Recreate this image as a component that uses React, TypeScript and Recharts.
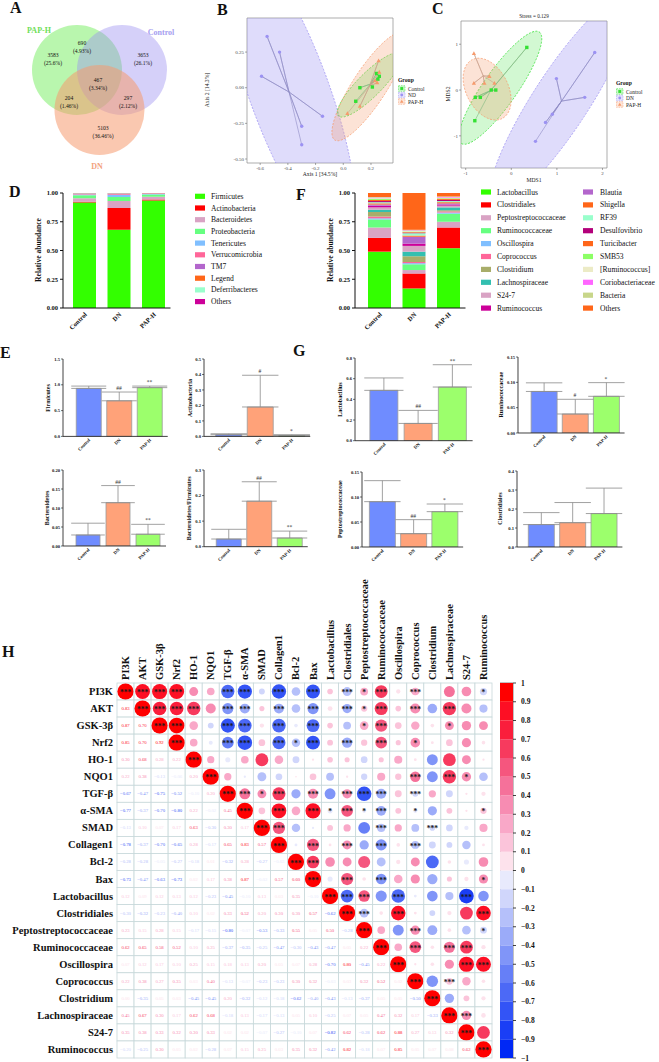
import React from "react";
import {
  BarChart,
  Bar,
  XAxis,
  YAxis,
  ScatterChart,
  Scatter,
  ComposedChart,
  ErrorBar,
  ReferenceArea,
  Cell,
} from "recharts";

const SERIF = "'Liberation Serif', 'Times New Roman', serif";
const INK = "#111";

// ---------- A: shared OTUs ----------
const VENN_SETS = ["PAP-H", "Control", "DN"];
const VENN_COUNTS = [3583, 690, 3653, 467, 204, 297, 5103];
const VENN_SHARES = ["25.6%", "4.93%", "26.1%", "3.34%", "1.46%", "2.12%", "36.46%"];

// ---------- B: PCoA ----------
const PCOA_GROUPS = ["Control", "ND", "PAP-H"];
const PCOA_CONTROL = [[0.24, 0.1], [0.26, 0.08], [0.25, 0.06], [0.21, 0.005], [0.12, 0.0], [0.09, -0.095]];
const PCOA_ND = [[-0.55, 0.36], [-0.46, 0.25], [-0.59, 0.08], [-0.15, -0.2], [-0.3, -0.27], [-0.3, -0.4]];
const PCOA_PAPH = [[0.255, 0.19], [0.26, 0.11], [0.23, 0.05], [0.245, 0.035], [0.12, -0.13], [0.03, -0.18]];
const PCOA_ELLIPSE_CENTERS = [[0.19, 0.02], [-0.39, -0.03], [0.19, 0.01]];
const PCOA_X_TICKS = [-0.6, -0.4, -0.2, 0, 0.2];
const PCOA_Y_TICKS = [-0.5, -0.25, 0, 0.25];

// ---------- C: NMDS ----------
const NMDS_GROUPS = ["Control", "DN", "PAP-H"];
const NMDS_CONTROL = [[0.34, 0.93], [-0.44, 0], [-0.34, 0], [-0.79, -0.16], [-0.68, -0.16], [-0.8, -0.67]];
const NMDS_DN = [[1.83, 0.82], [0.99, 0.25], [1.61, -0.16], [0.9, -0.53], [0.75, -0.71], [0.53, -1.12]];
const NMDS_PAPH = [[-0.82, 0.8], [-0.82, 0.15], [-0.59, 0.15], [-0.48, 0.3], [-0.37, 0.15]];
const NMDS_ELLIPSE_CENTERS = [[-0.24, 0.05], [1.1, -0.22], [-0.53, 0.02]];
const NMDS_X_TICKS = [-1, 0, 1, 2];
const NMDS_Y_TICKS = [-1, 0, 1];
const NMDS_STRESS = "0.129";

// ---------- D / F: relative abundance ----------
const GROUPS = ["Control", "DN", "PAP-H"];
const PHYLA = ["Firmicutes", "Actinobacteria", "Bacteroidetes", "Proteobacteria", "Tenericutes", "Verrucomicrobia", "TM7", "Legend", "Deferribacteres", "Others"];
const PHYLA_CONTROL = [0.917, 0.008, 0.03, 0.025, 0.008, 0.004, 0.003, 0.002, 0.002, 0.001];
const PHYLA_DN = [0.68, 0.19, 0.06, 0.035, 0.02, 0.006, 0.004, 0.002, 0.002, 0.001];
const PHYLA_PAPH = [0.935, 0.008, 0.025, 0.018, 0.007, 0.003, 0.002, 0.001, 0.001, 0.001];
const PHYLA_COLORS = ["#33ff00", "#ff0000", "#d9a3c4", "#66ff80", "#80bfff", "#ff6699", "#b366cc", "#ff6619", "#99ffcc", "#cc0099"];

const GENERA = ["Lactobacillus", "Clostridiales", "Peptostreptococcaceae", "Ruminococcaceae", "Oscillospira", "Coprococcus", "Clostridium", "Lachnospiraceae", "S24-7", "Ruminococcus", "Blautia", "Shigella", "RF39", "Desulfovibrio", "Turicibacter", "SMB53", "[Ruminococcus]", "Coriobacteriaceae", "Bacteria", "Others"];
const GENERA_CONTROL = [0.49, 0.12, 0.09, 0.07, 0.01, 0.015, 0.04, 0.02, 0.02, 0.015, 0.01, 0.01, 0.01, 0.01, 0.01, 0.01, 0.005, 0.005, 0.005, 0.035];
const GENERA_DN = [0.17, 0.13, 0.03, 0.05, 0.01, 0.01, 0.05, 0.04, 0.05, 0.02, 0.06, 0.01, 0.02, 0.005, 0.005, 0.005, 0.005, 0.005, 0.005, 0.32];
const GENERA_PAPH = [0.52, 0.18, 0.05, 0.07, 0.01, 0.01, 0.01, 0.025, 0.015, 0.01, 0.01, 0.01, 0.01, 0.01, 0.01, 0.005, 0.005, 0.005, 0.005, 0.03];
const GENERA_COLORS = ["#33ff00", "#ff0000", "#d9a3c4", "#66ff80", "#80bfff", "#ff6699", "#a8ad6a", "#33bfb0", "#d9a3c4", "#cc0099", "#b366cc", "#ff6619", "#99ffcc", "#b3007a", "#ff661a", "#8cff66", "#ecebc6", "#ff66ff", "#c8d68a", "#ff6619"];
const ABUND_TICKS = [0, 0.25, 0.5, 0.75, 1];

// ---------- E / G: group comparisons ----------
const BAR_COLORS = ["#6f8cff", "#ffa279", "#9cff6c"];
const FIRMICUTES_MEAN = [0.93, 0.69, 0.945];
const FIRMICUTES_SD = [0.045, 0.17, 0.03];
const FIRMICUTES_MARK = ["", "##", "**"];
const FIRMICUTES_TICKS = [0, 0.5, 1, 1.5];
const ACTINO_MEAN = [0.011, 0.19, 0.006];
const ACTINO_SD = [0.006, 0.205, 0.005];
const ACTINO_MARK = ["", "#", "*"];
const ACTINO_TICKS = [0, 0.1, 0.2, 0.3, 0.4, 0.5];
const BACTERO_MEAN = [0.029, 0.114, 0.031];
const BACTERO_SD = [0.031, 0.045, 0.026];
const BACTERO_MARK = ["", "##", "**"];
const BACTERO_TICKS = [0, 0.05, 0.1, 0.15, 0.2];
const BF_MEAN = [0.03, 0.178, 0.034];
const BF_SD = [0.038, 0.076, 0.027];
const BF_MARK = ["", "##", "**"];
const BF_TICKS = [0, 0.1, 0.2, 0.3];
const LACTO_MEAN = [0.487, 0.167, 0.519];
const LACTO_SD = [0.12, 0.126, 0.216];
const LACTO_MARK = ["", "##", "**"];
const LACTO_TICKS = [0, 0.2, 0.4, 0.6, 0.8];
const RUMINO_MEAN = [0.082, 0.0375, 0.0724];
const RUMINO_SD = [0.017, 0.029, 0.027];
const RUMINO_MARK = ["", "#", "*"];
const RUMINO_TICKS = [0, 0.05, 0.1, 0.15];
const PEPTO_MEAN = [0.0907, 0.0267, 0.0707];
const PEPTO_SD = [0.042, 0.028, 0.0153];
const PEPTO_MARK = ["", "##", "*"];
const PEPTO_TICKS = [0, 0.05, 0.1, 0.15];
const CLOSTRI_MEAN = [0.118, 0.128, 0.176];
const CLOSTRI_SD = [0.063, 0.106, 0.134];
const CLOSTRI_MARK = ["", "", ""];
const CLOSTRI_TICKS = [0, 0.1, 0.2, 0.3, 0.4];

// ---------- H: correlation matrix ----------
const HEAT_LABELS = ["PI3K", "AKT", "GSK-3β", "Nrf2", "HO-1", "NQO1", "TGF-β", "α-SMA", "SMAD", "Collagen1", "Bcl-2", "Bax", "Lactobacillus", "Clostridiales", "Peptostreptococcaceae", "Ruminococcaceae", "Oscillospira", "Coprococcus", "Clostridium", "Lachnospiraceae", "S24-7", "Ruminococcus"];
// lower triangle, row i holds r with columns 0..i-1
const HEAT_LOWER = [
  [],
  [0.83],
  [0.87, 0.7],
  [0.85, 0.7, 0.92],
  [0.3, 0.68, 0.28, 0.22],
  [0.22, 0.38, -0.13, -0.06, 0.2],
  [-0.67, -0.47, -0.75, -0.52, -0.1, 0.2],
  [-0.77, -0.37, -0.7, -0.8, 0.22, -0.02, 0.45],
  [-0.13, 0.1, 0.07, 0.17, 0.63, -0.3, 0.3, 0.17],
  [-0.78, -0.37, -0.7, -0.65, 0.28, -0.17, 0.65, 0.83, 0.57],
  [-0.28, -0.28, -0.05, -0.27, -0.18, 0.01, -0.32, 0.28, -0.27, -0.03],
  [-0.73, -0.47, -0.63, -0.73, 0.02, 0.17, 0.38, 0.87, -0.02, 0.57, 0.6],
  [0.12, 0.09, 0.12, 0.13, 0.12, -0.23, -0.45, -0.1, 0.13, 0.03, 0.35, -0.1],
  [-0.3, -0.32, -0.23, -0.4, 0.1, 0.02, 0.33, 0.52, 0.2, 0.3, 0.3, 0.57, -0.62],
  [0.23, 0.15, 0.28, 0.15, -0.17, -0.15, -0.8, -0.07, -0.53, -0.33, 0.55, 0.05, 0.5, -0.28],
  [0.62, 0.65, 0.58, 0.52, 0.1, 0.25, -0.37, -0.35, -0.25, -0.47, -0.3, -0.43, -0.47, 0.05, 0.22],
  [0.07, 0.12, 0.17, 0.1, 0.25, 0.15, 0.18, 0.13, 0.2, 0.05, 0.07, 0.28, -0.7, 0.8, -0.45, 0.22],
  [0.22, 0.38, 0.27, 0.35, 0.03, 0.4, -0.13, -0.07, -0.23, -0.23, 0.3, 0.32, -0.03, 0.03, 0.32, 0.52, 0.02],
  [0.0, -0.35, 0.05, 0.03, -0.45, -0.45, 0.2, -0.32, -0.12, -0.18, -0.62, -0.4, -0.43, -0.13, -0.37, 0.05, 0.05, -0.5],
  [0.45, 0.67, 0.3, 0.17, 0.62, 0.68, -0.18, 0.13, -0.17, -0.13, 0.05, 0.1, -0.25, 0.07, 0.05, 0.47, 0.32, 0.17, -0.33],
  [0.35, 0.38, 0.33, 0.32, 0.3, 0.33, 0.02, 0.02, -0.07, -0.27, -0.1, 0.07, -0.82, 0.62, -0.28, 0.62, 0.88, 0.27, 0.13, 0.32],
  [-0.2, -0.25, 0.3, 0.05, 0.02, -0.28, 0.07, 0.15, 0.25, 0.03, 0.35, 0.32, -0.42, 0.82, -0.18, 0.07, 0.85, 0.05, 0.07, 0.08, 0.62],
];
// upper triangle significance, row i covers columns i+1..21 (digit = number of stars)
const HEAT_STARS = [
  "333003303030313030001",
  "33303303030313030300",
  "3003303030013000100",
  "003303130303010000",
  "00000000000000000",
  "0000000000030310",
  "313030333030000",
  "03031313010001",
  "3000003003000",
  "030303030000",
  "30000000000",
  "0303000001",
  "330300030",
  "30300003",
  "0030001",
  "030330",
  "00033",
  "0300",
  "000",
  "30",
  "0",
  "",
];
const COLORBAR_TICKS = [-1, -0.9, -0.8, -0.7, -0.6, -0.5, -0.4, -0.3, -0.2, -0.1, 0, 0.1, 0.2, 0.3, 0.4, 0.5, 0.6, 0.7, 0.8, 0.9, 1];
const HEAT_PALETTE = [
  "#0028f5", "#1a3ef5", "#3354f6", "#4c69f6", "#667ff7", "#8095f8", "#9babf9", "#b5c0fa", "#d0d6fb", "#e8eafc",
  "#fde2ec", "#fbc4da", "#f9a8c8", "#f78cb2", "#f5719a", "#f5567e", "#f73a5e", "#fa1e3c", "#fd0f24", "#ff0000",
];

const colorOf = (r: number) => HEAT_PALETTE[Math.min(19, Math.max(0, Math.floor((r + 1) * 10 + 1e-9)))];
const fmtR = (r: number) => (r < 0 ? "\u2212" : "") + Math.abs(r).toFixed(2);

const HEAT_CELLS: any[] = [];
HEAT_LABELS.forEach((_, i) => {
  HEAT_LABELS.forEach((__, j) => {
    const r = i === j ? 1 : j < i ? HEAT_LOWER[i][j] : HEAT_LOWER[j][i];
    const n = i === j ? 3 : j > i ? Number(HEAT_STARS[i][j - i - 1]) : 0;
    HEAT_CELLS.push({ x: j, y: i, r, lower: j < i, stars: "*".repeat(n) });
  });
});
const HEAT_INDEX = HEAT_LABELS.map((_, i) => i);

// ---------- layout ----------
const VENN_SET_LAYOUT = [
  { x: 77, y: 70, fill: "#74ee5e", opacity: 0.5, lx: 39, ly: 30, color: "#6ede58" },
  { x: 122, y: 70, fill: "#9a90f0", opacity: 0.42, lx: 161, ly: 32, color: "#a59ef0" },
  { x: 99.5, y: 110, fill: "#f59a70", opacity: 0.55, lx: 97, ly: 166, color: "#f3a27e" },
];
const VENN_REGION_LAYOUT = [[53, 59], [82, 47], [143, 59], [98, 84], [69, 102], [128, 102], [103, 132]];

const GREEN = "#33e033";
const PURPLE = "#9c92f2";
const ORANGE = "#f69a6c";

function Venn() {
  const sets = VENN_SETS.map((name, i) => ({ name, ...VENN_SET_LAYOUT[i] }));
  const names = VENN_SETS.map((name, i) => ({ name, x: VENN_SET_LAYOUT[i].lx, y: VENN_SET_LAYOUT[i].ly, color: VENN_SET_LAYOUT[i].color }));
  const regions = VENN_COUNTS.map((n, i) => ({ n, share: VENN_SHARES[i], x: VENN_REGION_LAYOUT[i][0], y: VENN_REGION_LAYOUT[i][1] }));
  return (
    <div style={{ position: "absolute", left: 0, top: 0 }}>
      <ScatterChart width={215} height={190} margin={{ top: 0, right: 0, bottom: 0, left: 0 }}>
        <XAxis type="number" dataKey="x" domain={[0, 215]} hide />
        <YAxis type="number" dataKey="y" domain={[0, 190]} reversed hide />
        <Scatter
          data={sets}
          isAnimationActive={false}
          shape={(p: any) => <circle cx={p.cx} cy={p.cy} r={45} fill={p.payload.fill} fillOpacity={p.payload.opacity} />}
        />
        <Scatter
          data={regions}
          isAnimationActive={false}
          shape={(p: any) => (
            <g fontFamily={SERIF} fontSize={5.6} fill={INK} textAnchor="middle">
              <text x={p.cx} y={p.cy - 2}>{p.payload.n}</text>
              <text x={p.cx} y={p.cy + 6}>({p.payload.share})</text>
            </g>
          )}
        />
        <Scatter
          data={names}
          isAnimationActive={false}
          shape={(p: any) => (
            <text x={p.cx} y={p.cy} textAnchor="middle" dominantBaseline="central" fontFamily={SERIF} fontWeight="bold" fontSize={8} fill={p.payload.color}>
              {p.payload.name}
            </text>
          )}
        />
      </ScatterChart>
    </div>
  );
}

function marker(kind: string, cx: number, cy: number, color: string, s = 1) {
  if (kind === "square") return <rect x={cx - 1.7 * s} y={cy - 1.7 * s} width={3.4 * s} height={3.4 * s} fill={color} />;
  if (kind === "triangle")
    return <polygon points={`${cx},${cy - 2.2 * s} ${cx - 2.1 * s},${cy + 1.6 * s} ${cx + 2.1 * s},${cy + 1.6 * s}`} fill={color} />;
  return <circle cx={cx} cy={cy} r={1.7 * s} fill={color} />;
}

const PCOA_CFG = {
  left: 205, top: 8, width: 195, height: 172, mt: 10, mr: 7, yW: 42,
  xDomain: [-0.695, 0.359], yDomain: [-0.528, 0.489], xTicks: PCOA_X_TICKS, yTicks: PCOA_Y_TICKS, xDigits: 1, yDigits: 2,
  groups: [
    { pts: PCOA_ND, c: PCOA_ELLIPSE_CENTERS[1], color: PURPLE, kind: "circle", ell: { rx: 160, ry: 40, a: 70 }, op: 0.32, line: "#8f8bc4" },
    { pts: PCOA_CONTROL, c: PCOA_ELLIPSE_CENTERS[0], color: GREEN, kind: "square", ell: { rx: 44, ry: 12, a: -45 }, op: 0.22, line: "#7fb87f" },
    { pts: PCOA_PAPH, c: PCOA_ELLIPSE_CENTERS[2], color: ORANGE, kind: "triangle", ell: { rx: 64, ry: 17, a: -57 }, op: 0.28, line: "#c9a08c" },
  ],
};

const NMDS_CFG = {
  left: 420, top: 10, width: 192, height: 175, mt: 11, mr: 5, yW: 41,
  xDomain: [-1.103, 2.099], yDomain: [-1.702, 1.507], xTicks: NMDS_X_TICKS, yTicks: NMDS_Y_TICKS, xDigits: 0, yDigits: 0,
  groups: [
    { pts: NMDS_DN, c: NMDS_ELLIPSE_CENTERS[1], color: PURPLE, kind: "circle", ell: { rx: 125, ry: 28, a: -57 }, op: 0.32, line: "#8f8bc4" },
    { pts: NMDS_CONTROL, c: NMDS_ELLIPSE_CENTERS[0], color: GREEN, kind: "square", ell: { rx: 68, ry: 17, a: -55 }, op: 0.22, line: "#7fb87f" },
    { pts: NMDS_PAPH, c: NMDS_ELLIPSE_CENTERS[2], color: ORANGE, kind: "triangle", ell: { rx: 33, ry: 21, a: 63 }, op: 0.28, line: "#c9a08c" },
  ],
};

function Ordination({ cfg }: { cfg: any }) {
  const tick = { fontSize: 5, fill: "#4d4d4d", fontFamily: SERIF };
  return (
    <div style={{ position: "absolute", left: cfg.left, top: cfg.top }}>
      <ScatterChart width={cfg.width} height={cfg.height} margin={{ top: cfg.mt, right: cfg.mr, bottom: 0, left: 0 }}>
        <XAxis
          type="number" dataKey="x" domain={cfg.xDomain} ticks={cfg.xTicks} interval={0} allowDataOverflow
          height={17} axisLine={false} tickLine={{ stroke: "#555", strokeWidth: 0.5 }} tickSize={2} tickMargin={1}
          tick={tick} tickFormatter={(v: number) => v.toFixed(cfg.xDigits)}
        />
        <YAxis
          type="number" dataKey="y" domain={cfg.yDomain} ticks={cfg.yTicks} interval={0} allowDataOverflow
          width={cfg.yW} axisLine={false} tickLine={{ stroke: "#555", strokeWidth: 0.5 }} tickSize={2} tickMargin={1}
          tick={tick} tickFormatter={(v: number) => v.toFixed(cfg.yDigits)}
        />
        {cfg.groups.map((g: any, gi: number) => (
          <Scatter
            key={`e${gi}`}
            data={[{ x: g.c[0], y: g.c[1] }]}
            isAnimationActive={false}
            shape={(p: any) => (
              <ellipse
                cx={p.cx} cy={p.cy} rx={g.ell.rx} ry={g.ell.ry}
                transform={`rotate(${g.ell.a} ${p.cx} ${p.cy})`}
                fill={g.color} fillOpacity={g.op} stroke={g.color} strokeWidth={0.7} strokeDasharray="2 1.5"
              />
            )}
          />
        ))}
        {cfg.groups.map((g: any, gi: number) => {
          const cx = g.pts.reduce((s: number, p: number[]) => s + p[0], 0) / g.pts.length;
          const cy = g.pts.reduce((s: number, p: number[]) => s + p[1], 0) / g.pts.length;
          const spider = g.pts.flatMap((p: number[]) => [{ x: cx, y: cy }, { x: p[0], y: p[1] }]);
          return (
            <Scatter
              key={`s${gi}`}
              data={spider}
              isAnimationActive={false}
              line={{ stroke: g.line, strokeWidth: 0.6 }}
              shape={() => <g />}
            />
          );
        })}
        {cfg.groups.map((g: any, gi: number) => (
          <Scatter
            key={`p${gi}`}
            data={g.pts.map((p: number[]) => ({ x: p[0], y: p[1] }))}
            isAnimationActive={false}
            shape={(p: any) => marker(g.kind, p.cx, p.cy, g.color)}
          />
        ))}
        <ReferenceArea
          x1={cfg.xDomain[0]} x2={cfg.xDomain[1]} y1={cfg.yDomain[0]} y2={cfg.yDomain[1]}
          fill="none" stroke="#8a8a8a" strokeWidth={0.7} ifOverflow="visible"
        />
      </ScatterChart>
    </div>
  );
}

function buildStack(series: number[][]) {
  return GROUPS.map((group, gi) => {
    const row: any = { group };
    series[gi].forEach((v, k) => (row[`k${k}`] = v));
    return row;
  });
}

const RotTick = (size: number, dx: number, dy: number) => (props: any) => {
  const { x, y, payload } = props;
  return (
    <text transform={`translate(${x + dx},${y + dy}) rotate(-45)`} textAnchor="end" fontSize={size} fontWeight="bold" fontFamily={SERIF} fill={INK}>
      {payload.value}
    </text>
  );
};

function StackPanel({ left, top, width, yW, padL, data, names, colors }: any) {
  return (
    <div style={{ position: "absolute", left, top }}>
      <BarChart width={width} height={160} data={data} margin={{ top: 10, right: 4.5, bottom: 0, left: 0 }}>
        <XAxis
          dataKey="group" height={35} padding={{ left: padL, right: 0 }} interval={0}
          axisLine={{ stroke: INK, strokeWidth: 1 }} tickLine={false} tickSize={0} tickMargin={4}
          tick={RotTick(6.5, 3, 3)}
        />
        <YAxis
          type="number" domain={[0, 1]} ticks={ABUND_TICKS} allowDataOverflow width={yW}
          axisLine={{ stroke: INK, strokeWidth: 1 }} tickLine={{ stroke: INK }} tickSize={3} tickMargin={2}
          tick={{ fontSize: 6.5, fontWeight: "bold", fill: INK, fontFamily: SERIF }}
          tickFormatter={(v: number) => v.toFixed(2)}
        />
        {names.map((n: string, k: number) => (
          <Bar key={n} dataKey={`k${k}`} stackId="a" fill={colors[k]} barSize={23} isAnimationActive={false} />
        ))}
      </BarChart>
    </div>
  );
}

const SMALL_PANELS = [
  { title: "Firmicutes", mean: FIRMICUTES_MEAN, sd: FIRMICUTES_SD, mark: FIRMICUTES_MARK, ticks: FIRMICUTES_TICKS, digits: 1, axisX: 63, top: 359.3, bottom: 436.7, centers: [88.5, 118.5, 149.5], barW: 25, labelX: 48 },
  { title: "Actinobacteria", mean: ACTINO_MEAN, sd: ACTINO_SD, mark: ACTINO_MARK, ticks: ACTINO_TICKS, digits: 1, axisX: 204, top: 359.3, bottom: 436.7, centers: [228.5, 260, 291.5], barW: 26, labelX: 190 },
  { title: "Bacteroidetes", mean: BACTERO_MEAN, sd: BACTERO_SD, mark: BACTERO_MARK, ticks: BACTERO_TICKS, digits: 2, axisX: 63, top: 470, bottom: 546, centers: [88, 118, 148], barW: 24, labelX: 47 },
  { title: "Bacteroidetes/Firmicutes", mean: BF_MEAN, sd: BF_SD, mark: BF_MARK, ticks: BF_TICKS, digits: 1, axisX: 204, top: 470, bottom: 546.7, centers: [228.5, 259.5, 289.5], barW: 25, labelX: 189 },
  { title: "Lactobacillus", mean: LACTO_MEAN, sd: LACTO_SD, mark: LACTO_MARK, ticks: LACTO_TICKS, digits: 1, axisX: 355, top: 358.3, bottom: 441, centers: [384, 418.5, 452.5], barW: 28, labelX: 340 },
  { title: "Ruminococcaceae", mean: RUMINO_MEAN, sd: RUMINO_SD, mark: RUMINO_MARK, ticks: RUMINO_TICKS, digits: 2, axisX: 518, top: 356.7, bottom: 432.7, centers: [543.7, 575, 606], barW: 26, labelX: 501 },
  { title: "Peptostreptococcaceae", mean: PEPTO_MEAN, sd: PEPTO_SD, mark: PEPTO_MARK, ticks: PEPTO_TICKS, digits: 2, axisX: 362, top: 471.7, bottom: 546.7, centers: [382, 413, 444.5], barW: 26, labelX: 340 },
  { title: "Clostridiales", mean: CLOSTRI_MEAN, sd: CLOSTRI_SD, mark: CLOSTRI_MARK, ticks: CLOSTRI_TICKS, digits: 1, axisX: 517, top: 470.7, bottom: 546.7, centers: [541, 572, 603.7], barW: 26, labelX: 500 },
];

function SmallBars({ p }: { p: any }) {
  const YW = 30, MT = 8, XH = 24;
  const spacing = (p.centers[2] - p.centers[0]) / 2;
  const padL = p.centers[0] - spacing / 2 - p.axisX;
  const plotW = padL + 3 * spacing + 3;
  const plotH = p.bottom - p.top;
  const data = GROUPS.map((g, i) => ({ group: g, mean: p.mean[i], err: [0, p.sd[i]], top: p.mean[i] + p.sd[i], mark: p.mark[i] }));
  return (
    <div style={{ position: "absolute", left: p.axisX - YW, top: p.top - MT }}>
      <ComposedChart width={YW + plotW + 2} height={MT + plotH + XH} data={data} margin={{ top: MT, right: 2, bottom: 0, left: 0 }}>
        <XAxis
          dataKey="group" type="category" height={XH} padding={{ left: padL, right: 3 }} interval={0}
          axisLine={{ stroke: INK, strokeWidth: 0.8 }} tickLine={false} tickSize={0} tickMargin={2}
          tick={RotTick(4.6, 2, 2)}
        />
        <YAxis
          type="number" domain={[0, p.ticks[p.ticks.length - 1]]} ticks={p.ticks} allowDataOverflow width={YW}
          axisLine={{ stroke: INK, strokeWidth: 0.8 }} tickLine={{ stroke: INK, strokeWidth: 0.6 }} tickSize={2} tickMargin={1}
          tick={{ fontSize: 4.6, fontWeight: "bold", fill: INK, fontFamily: SERIF }}
          tickFormatter={(v: number) => v.toFixed(p.digits)}
        />
        <Bar dataKey="mean" barSize={p.barW} stroke="#9b9b9b" strokeWidth={0.8} isAnimationActive={false}>
          {data.map((d, i) => (
            <Cell key={d.group} fill={BAR_COLORS[i]} />
          ))}
          <ErrorBar dataKey="err" width={p.barW * 0.7} stroke="#8a8a8a" strokeWidth={0.8} direction="y" />
        </Bar>
        <Scatter
          dataKey="top"
          isAnimationActive={false}
          shape={(s: any) =>
            s.payload.mark ? (
              <text x={s.cx} y={s.cy - 2} textAnchor="middle" fontSize={5.6} fill="#333" fontFamily={SERIF}>
                {s.payload.mark}
              </text>
            ) : (
              <g />
            )
          }
        />
      </ComposedChart>
    </div>
  );
}

const CELL = 375 / 22;

function HeatCell(props: any) {
  const { cx, cy, payload } = props;
  const half = CELL / 2;
  const col = colorOf(payload.r);
  return (
    <g>
      <rect x={cx - half} y={cy - half} width={CELL} height={CELL} fill="#fff" stroke="#c7d8da" strokeWidth={0.8} />
      {payload.lower ? (
        <text x={cx} y={cy} textAnchor="middle" dominantBaseline="central" fontSize={4.7} fill={col} fontFamily={SERIF}>
          {fmtR(payload.r)}
        </text>
      ) : (
        <g>
          <circle cx={cx} cy={cy} r={Math.sqrt(Math.abs(payload.r)) * (half - 0.4)} fill={col} />
          {payload.stars ? (
            <text x={cx} y={cy + 3.6} textAnchor="middle" fontSize={7.5} fontWeight="bold" fill="#1a1a1a" fontFamily={SERIF}>
              {payload.stars}
            </text>
          ) : null}
        </g>
      )}
    </g>
  );
}

function Heatmap() {
  const colTick = (p: any) => (
    <text transform={`translate(${p.x},${p.y}) rotate(-90)`} textAnchor="start" dominantBaseline="central" fontSize={10.5} fontWeight="bold" fontFamily={SERIF} fill={INK}>
      {HEAT_LABELS[p.payload.value]}
    </text>
  );
  const rowTick = (p: any) => (
    <text x={p.x} y={p.y} textAnchor="end" dominantBaseline="central" fontSize={10.5} fontWeight="bold" fontFamily={SERIF} fill={INK}>
      {HEAT_LABELS[p.payload.value]}
    </text>
  );
  return (
    <div style={{ position: "absolute", left: 0, top: 565 }}>
      <ScatterChart width={497} height={497} margin={{ top: 0, right: 5, bottom: 4, left: 0 }}>
        <XAxis
          type="number" dataKey="x" orientation="top" domain={[-0.5, 21.5]} ticks={HEAT_INDEX} interval={0}
          height={118} axisLine={false} tickLine={false} tickSize={0} tickMargin={3} tick={colTick}
        />
        <YAxis
          type="number" dataKey="y" domain={[-0.5, 21.5]} reversed ticks={HEAT_INDEX} interval={0}
          width={117} axisLine={false} tickLine={false} tickSize={0} tickMargin={4} tick={rowTick}
        />
        <Scatter data={HEAT_CELLS} isAnimationActive={false} shape={HeatCell} />
      </ScatterChart>
    </div>
  );
}

// colour key: one stacked bar, negative bins stacked downward from 0
const CB_ORDER = [9, 8, 7, 6, 5, 4, 3, 2, 1, 0, 10, 11, 12, 13, 14, 15, 16, 17, 18, 19];
const CB_ROW: any = { name: "r" };
CB_ORDER.forEach((k) => {
  const lo = COLORBAR_TICKS[k];
  const hi = COLORBAR_TICKS[k + 1];
  CB_ROW[`b${k}`] = hi <= 0 ? -(hi - lo) : hi - lo;
});

function ColorBar() {
  return (
    <div style={{ position: "absolute", left: 500, top: 676 }}>
      <BarChart width={60} height={389} data={[CB_ROW]} stackOffset="sign" barCategoryGap={0} margin={{ top: 7, right: 0, bottom: 7, left: 0 }}>
        <XAxis dataKey="name" hide />
        <YAxis
          type="number" orientation="right" domain={[-1, 1]} ticks={COLORBAR_TICKS} interval={0} allowDataOverflow
          width={47} axisLine={false} tickLine={{ stroke: INK, strokeWidth: 0.8 }} tickSize={3} tickMargin={5}
          tick={{ fontSize: 7.5, fontWeight: "bold", fill: INK, fontFamily: SERIF }}
          tickFormatter={(v: number) => (v < 0 ? "\u2212" : "") + String(Number(Math.abs(v).toFixed(1)))}
        />
        {CB_ORDER.map((k) => (
          <Bar key={k} dataKey={`b${k}`} stackId="cb" fill={HEAT_PALETTE[k]} isAnimationActive={false} />
        ))}
        <ReferenceArea y1={-1} y2={1} fill="none" stroke="#666" strokeWidth={0.8} ifOverflow="visible" />
      </BarChart>
    </div>
  );
}

const VText = ({ x, y, size, bold, children, color }: any) => (
  <text
    transform={`translate(${x},${y}) rotate(-90)`}
    textAnchor="middle" dominantBaseline="central" fontSize={size}
    fontWeight={bold ? "bold" : "normal"} fill={color || INK}
  >
    {children}
  </text>
);

const PANEL_LETTERS: [string, number, number][] = [
  ["A", 10, 13], ["B", 217, 15], ["C", 432, 14], ["D", 9, 197], ["E", 0, 358], ["F", 296, 200], ["G", 293, 356], ["H", 2, 657],
];
const KINDS = ["square", "circle", "triangle"];
const KIND_COLORS = [GREEN, PURPLE, ORANGE];

function GroupLegend({ x, y, names }: { x: number; y: number; names: string[] }) {
  return (
    <g>
      <text x={x} y={y} dominantBaseline="central" fontSize={5.6} fontWeight="bold" fill={INK}>Group</text>
      {names.map((n, i) => {
        const cy = y + 8.5 + i * 6.5;
        return (
          <g key={n}>
            <rect x={x + 0.5} y={cy - 2.8} width={6.5} height={5.6} fill={KIND_COLORS[i]} fillOpacity={0.25} stroke={KIND_COLORS[i]} strokeWidth={0.5} strokeDasharray="1.5 1" />
            {marker(KINDS[i], x + 3.75, cy, KIND_COLORS[i], 0.85)}
            <text x={x + 10} y={cy} dominantBaseline="central" fontSize={5.4} fill="#222">{n}</text>
          </g>
        );
      })}
    </g>
  );
}

function Overlay() {
  return (
    <svg width={659} height={1062} style={{ position: "absolute", left: 0, top: 0, pointerEvents: "none" }} fontFamily={SERIF}>
      {PANEL_LETTERS.map(([l, x, y]) => (
        <text key={l} x={x} y={y} fontSize={16} fontWeight="bold" fill={INK}>{l}</text>
      ))}
      {/* B / C axis titles and keys */}
      <text x={320} y={174} textAnchor="middle" dominantBaseline="central" fontSize={5.6} fill="#222">Axis 1 [34.5%]</text>
      <VText x={207} y={90} size={5.6} color="#222">Axis 2 [14.3%]</VText>
      <GroupLegend x={398} y={80} names={PCOA_GROUPS} />
      <text x={534} y={16} textAnchor="middle" dominantBaseline="central" fontSize={5.2} fill="#222">Stress = {NMDS_STRESS}</text>
      <text x={534} y={180} textAnchor="middle" dominantBaseline="central" fontSize={5.6} fill="#222">MDS1</text>
      <VText x={448} y={94} size={5.6} color="#222">MDS2</VText>
      <GroupLegend x={616} y={83} names={NMDS_GROUPS} />
      {/* D / F */}
      <VText x={38} y={250} size={7.6} bold>Relative abundance</VText>
      <VText x={330} y={250} size={7.6} bold>Relative abundance</VText>
      {PHYLA.map((n, i) => {
        const y = 196.3 + i * 11.7;
        return (
          <g key={n}>
            <rect x={195} y={y - 2.6} width={10} height={5.2} fill={PHYLA_COLORS[i]} />
            <text x={211} y={y} dominantBaseline="central" fontSize={7.6} fill={INK}>{n}</text>
          </g>
        );
      })}
      {GENERA.map((n, i) => {
        const col = Math.floor(i / 10);
        const y = 192 + (i % 10) * 12.9;
        return (
          <g key={`${n}${i}`}>
            <rect x={col ? 583 : 481} y={y - 2.6} width={10} height={5.2} fill={GENERA_COLORS[i]} />
            <text x={col ? 600 : 497} y={y} dominantBaseline="central" fontSize={7.6} fill={INK}>{n}</text>
          </g>
        );
      })}
      {/* E / G axis titles */}
      {SMALL_PANELS.map((p) => (
        <VText key={p.title} x={p.labelX} y={(p.top + p.bottom) / 2} size={6} bold>{p.title}</VText>
      ))}
    </svg>
  );
}

export default function App() {
  return (
    <div style={{ position: "absolute", left: 0, top: 0, width: 659, height: 1062, background: "#fff", overflow: "hidden", fontFamily: SERIF }}>
      <Venn />
      <Ordination cfg={PCOA_CFG} />
      <Ordination cfg={NMDS_CFG} />
      <StackPanel left={0} top={183} width={175} yW={63} padL={4} data={buildStack([PHYLA_CONTROL, PHYLA_DN, PHYLA_PAPH])} names={PHYLA} colors={PHYLA_COLORS} />
      <StackPanel left={300} top={183} width={170} yW={55} padL={7} data={buildStack([GENERA_CONTROL, GENERA_DN, GENERA_PAPH])} names={GENERA} colors={GENERA_COLORS} />
      {SMALL_PANELS.map((p) => (
        <SmallBars key={p.title} p={p} />
      ))}
      <Heatmap />
      <ColorBar />
      <Overlay />
    </div>
  );
}
